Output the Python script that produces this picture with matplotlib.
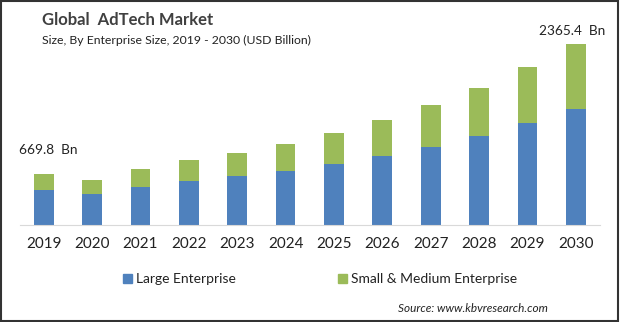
import matplotlib.pyplot as plt
from matplotlib.patches import Rectangle
import numpy as np

years = ["2019", "2020", "2021", "2022", "2023", "2024",
         "2025", "2026", "2027", "2028", "2029", "2030"]
large_enterprise = [460, 405, 496, 574, 640, 705, 796, 901, 1018, 1162, 1331, 1508]
small_medium = [209.8, 182, 235, 274, 300, 352, 405, 469, 548, 626, 731, 857.4]

blue = "#4F81BD"
green = "#9BBB59"
plt.rcParams['font.family'] = ['Lato', 'DejaVu Sans']

fig = plt.figure(figsize=(6.2, 3.22), dpi=100)
ax = fig.add_axes([20 / 620, 1 - 225 / 322, 580 / 620, 195 / 322])

x = np.arange(len(years))
totals = np.array(large_enterprise) + np.array(small_medium)
ax.bar(x, large_enterprise, width=0.41, color=blue, label="Large Enterprise")
ax.bar(x, small_medium, width=0.41, bottom=large_enterprise, color=green,
       label="Small & Medium Enterprise")

ax.set_xlim(-0.49, 11.5)
ax.set_ylim(0, 2545)
ax.set_xticks(x)
ax.set_xticklabels(years, fontsize=11, color="#222222")
ax.tick_params(axis='x', length=0, pad=9)
ax.set_yticks([])
for side in ["top", "right", "left"]:
    ax.spines[side].set_visible(False)
ax.spines["bottom"].set_color("#d9d9d9")

# value labels on first and last bar
ax.annotate(f"{totals[0]:.1f}  Bn", (x[0], totals[0]), xytext=(5, 24),
            textcoords="offset pixels", ha="center", va="center", fontsize=9.8, color="#222222")
ax.annotate(f"{totals[-1]:.1f}  Bn", (x[-1], totals[-1]), xytext=(-4, 13),
            textcoords="offset pixels", ha="center", va="center", fontsize=9.8, color="#222222")

fig.text(42 / 620, 1 - 20 / 322, "Global  AdTech Market", fontsize=12, fontweight="bold",
         color="#404040", va="center")
fig.text(42 / 620, 1 - 40 / 322, "Size, By Enterprise Size, 2019 - 2030 (USD Billion)",
         fontsize=8.8, color="#222222", va="center")

# legend drawn by hand
fig.patches.append(Rectangle((123 / 620, 1 - 283 / 322), 9 / 620, 9 / 322,
                             transform=fig.transFigure, color=blue))
fig.text(136 / 620, 1 - 279 / 322, "Large Enterprise", fontsize=10, color="#222222", va="center")
fig.patches.append(Rectangle((338 / 620, 1 - 283 / 322), 9 / 620, 9 / 322,
                             transform=fig.transFigure, color=green))
fig.text(351 / 620, 1 - 279 / 322, "Small & Medium Enterprise", fontsize=10,
         color="#222222", va="center")

fig.text(548 / 620, 1 - 308 / 322, "Source: www.kbvresearch.com", fontsize=8.5,
         style="italic", color="#222222", ha="right", va="center")

# frame around the whole figure
fig.patches.append(Rectangle((0.001, 0.002), 0.996, 0.995, transform=fig.transFigure,
                             fill=False, edgecolor="#333333", linewidth=1.5))

fig.savefig("out.png", dpi=100)
